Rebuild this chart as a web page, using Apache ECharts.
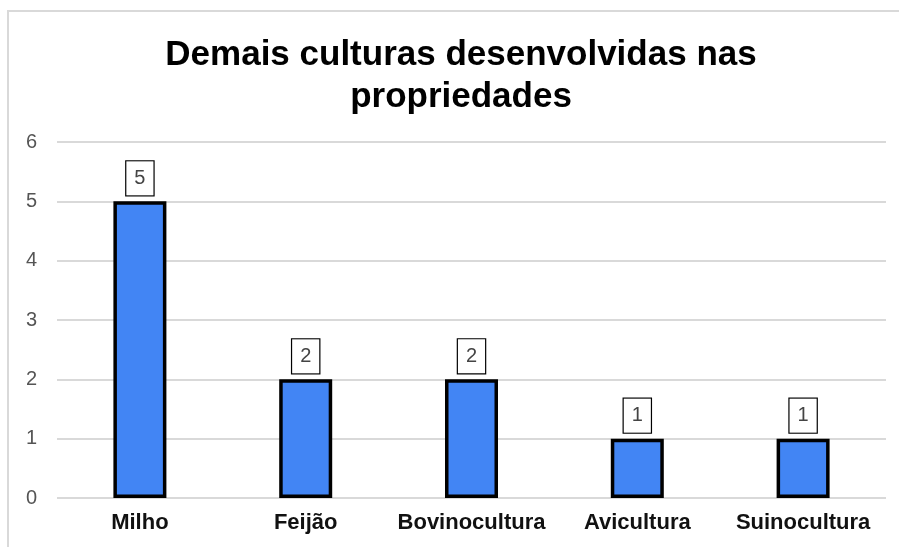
<!DOCTYPE html>
<html>
<head>
<meta charset="utf-8">
<script src="https://cdn.jsdelivr.net/npm/echarts@6/dist/echarts.min.js"></script>
<style>
  html, body { margin: 0; padding: 0; background: #fff; }
  #chart { width: 899px; height: 547px; }
</style>
</head>
<body>
<div id="chart"></div>
<script>
// Culturas e quantidade de propriedades
const categories = ['Milho', 'Feijão', 'Bovinocultura', 'Avicultura', 'Suinocultura'];
const values = [5, 2, 2, 1, 1];
const yTicks = [0, 1, 2, 3, 4, 5, 6];

const chart = echarts.init(document.getElementById('chart'), null, { renderer: 'canvas' });

chart.setOption({
  backgroundColor: '#ffffff',
  animation: false,
  title: {
    text: 'Demais culturas desenvolvidas nas\npropriedades',
    left: 456,
    textAlign: 'center',
    top: 29,
    textStyle: {
      fontFamily: 'Liberation Sans, Arial, sans-serif',
      fontSize: 35,
      fontWeight: 'bold',
      color: '#000',
      lineHeight: 42
    }
  },
  graphic: [{
    type: 'rect',
    shape: { x: 8, y: 11, width: 1200, height: 1200 },
    style: { fill: 'none', stroke: '#d9d9d9', lineWidth: 2 },
    silent: true,
    z: -1
  }],
  grid: { left: 57, right: 13, top: 142, bottom: 49 },
  xAxis: {
    type: 'category',
    data: categories,
    axisLine: { show: false },
    axisTick: { show: false },
    axisLabel: {
      interval: 0,
      margin: 14,
      fontFamily: 'Liberation Sans, Arial, sans-serif',
      fontSize: 22,
      fontWeight: 'bold',
      color: '#111'
    }
  },
  yAxis: {
    type: 'value',
    min: yTicks[0],
    max: yTicks[yTicks.length - 1],
    interval: 1,
    axisLine: { show: false },
    axisTick: { show: false },
    axisLabel: {
      margin: 20,
      fontFamily: 'Liberation Sans, Arial, sans-serif',
      fontSize: 20,
      color: '#555'
    },
    splitLine: { lineStyle: { color: '#d9d9d9', width: 2 } }
  },
  series: [{
    type: 'bar',
    data: values,
    barWidth: 53,
    itemStyle: {
      color: '#4285F4',
      borderColor: '#000',
      borderWidth: 3.5
    },
    label: {
      show: true,
      position: 'top',
      distance: 6,
      fontFamily: 'Liberation Sans, Arial, sans-serif',
      fontSize: 20,
      color: '#444',
      backgroundColor: '#fff',
      borderColor: '#000',
      borderWidth: 1.2,
      lineHeight: 20,
      padding: [7, 8, 7, 8]
    }
  }]
});
</script>
</body>
</html>
